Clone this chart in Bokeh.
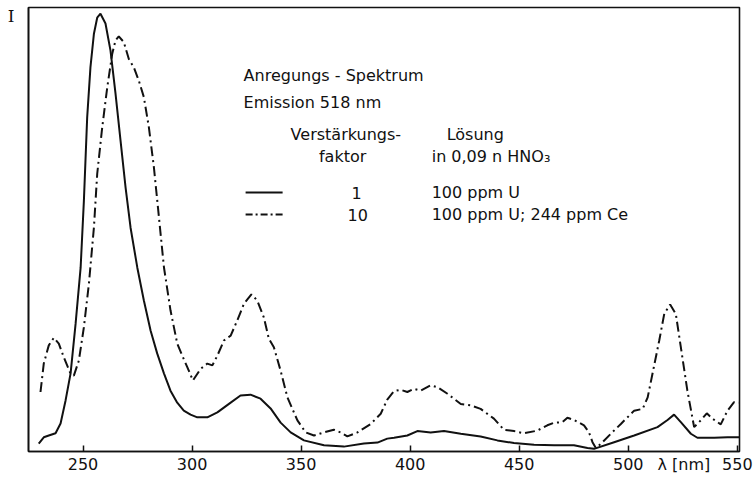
from bokeh.plotting import figure
from bokeh.models import Label, FixedTicker, Range1d
from bokeh.embed import file_html
from bokeh.resources import INLINE

# ---- data (lambda in nm, relative intensity) ----
lam_solid = [229.7, 232.0, 234.3, 237.4, 239.7, 242.0, 244.3, 246.6, 248.9, 250.4,
             251.9, 253.4, 255.0, 256.5, 258.0, 260.3, 262.6, 264.9, 267.2, 269.5,
             271.8, 274.9, 277.9, 281.0, 284.0, 287.1, 290.1, 293.2, 296.2, 299.3,
             302.4, 307.0, 311.6, 317.7, 322.2, 326.8, 331.4, 336.0, 340.6, 345.2,
             351.3, 360.5, 369.6, 378.8, 385.0, 389.5, 392.6, 398.7, 403.3, 409.4,
             415.5, 423.2, 432.3, 440.0, 447.6, 456.8, 466.0, 475.1, 481.3, 484.3,
             493.5, 502.7, 513.4, 518.0, 521.0, 524.1, 528.7, 531.7, 539.4, 545.5,
             551.0]
i_solid = [1.8, 3.2, 3.6, 4.1, 6.3, 11.5, 17.6, 28.8, 41.4, 56.5,
           75.2, 86.5, 94.1, 97.7, 98.6, 96.4, 90.3, 80.6, 70.0, 59.5,
           50.4, 41.4, 34.0, 27.2, 22.1, 17.6, 13.7, 11.0, 9.2, 8.3,
           7.7, 7.7, 8.8, 11.0, 12.6, 12.8, 11.9, 9.7, 6.5, 4.3,
           2.5, 1.4, 1.1, 1.8, 2.0, 2.9, 3.1, 3.6, 4.6, 4.3,
           4.6, 4.0, 3.4, 2.5, 1.9, 1.5, 1.4, 1.4, 0.8, 0.6,
           2.1, 3.6, 5.5, 7.1, 8.3, 6.6, 4.0, 3.1, 3.1, 3.2,
           3.2]

lam_dash = [230.5, 232.0, 234.3, 236.6, 238.9, 241.2, 244.3, 245.8, 248.1, 250.4,
            252.7, 255.0, 256.5, 258.8, 261.1, 263.4, 264.9, 266.4, 268.7, 271.0,
            273.3, 275.6, 277.9, 280.2, 282.5, 284.8, 287.1, 290.1, 293.2, 295.5,
            297.8, 300.4, 303.9, 307.0, 309.3, 311.6, 314.6, 317.7, 320.7, 323.8,
            327.2, 329.9, 332.9, 335.2, 337.5, 340.6, 343.7, 348.3, 352.1, 355.9,
            360.5, 365.0, 368.1, 371.2, 375.8, 381.9, 386.5, 389.5, 392.6, 395.6,
            398.7, 401.7, 404.8, 409.4, 412.5, 417.1, 423.2, 427.7, 432.3, 438.4,
            443.0, 447.6, 452.2, 458.3, 462.9, 466.0, 469.8, 472.1, 475.1, 479.7,
            482.0, 483.6, 485.1, 487.4, 492.0, 496.6, 502.7, 506.6, 508.9, 511.1,
            514.2, 516.5, 519.2, 521.8, 524.1, 527.1, 530.2, 533.2, 536.0, 538.6,
            542.4, 545.5, 548.5, 550.7]
i_dash = [13.4, 19.8, 23.9, 25.6, 24.3, 21.2, 17.5, 17.1, 20.5, 28.0,
          37.8, 50.5, 62.5, 73.0, 82.0, 89.6, 92.6, 93.5, 92.2, 88.4,
          86.5, 83.5, 79.8, 73.0, 64.0, 52.8, 41.5, 31.8, 24.3, 21.6,
          19.0, 16.0, 18.6, 19.8, 19.4, 21.6, 25.0, 26.1, 29.5, 33.3,
          35.4, 34.0, 30.2, 25.4, 23.5, 18.2, 12.2, 7.0, 4.3, 3.6,
          4.3, 4.9, 4.3, 3.4, 4.3, 6.2, 8.5, 11.7, 13.6, 13.9,
          13.4, 14.1, 13.7, 14.9, 14.5, 13.0, 10.7, 10.4, 9.6, 7.4,
          4.9, 4.6, 4.1, 4.7, 5.9, 6.5, 6.6, 7.6, 7.1, 5.9,
          4.3, 2.1, 0.8, 1.7, 4.0, 6.2, 9.2, 9.6, 12.2, 17.5,
          25.0, 31.0, 33.1, 31.0, 23.5, 13.7, 5.5, 7.0, 8.6, 7.4,
          6.1, 9.2, 11.1, 11.0]

x_ticks = [250, 300, 350, 400, 450, 500, 550]
x_unit_label = "λ [nm]"
x_unit_pos = 525.5
y_label = "I"
y_label_pos = 98.0

FONT = "DejaVu Sans"
FS = "16px"
INK = "#111111"

p = figure(width=756, height=479, output_backend="svg", toolbar_location=None,
           x_range=Range1d(225, 551), y_range=Range1d(0, 100),
           min_border_left=28, min_border_right=17, min_border_top=7,
           min_border_bottom=28)
p.background_fill_color = "white"
p.border_fill_color = "white"
p.grid.visible = False
p.outline_line_color = INK
p.outline_line_width = 1.6

# x axis: tick marks via minor ticks (only at the numbered positions),
# labels via major ticks (numbers + the unit label)
ax = p.xaxis[0]
ax.ticker = FixedTicker(ticks=x_ticks + [x_unit_pos], minor_ticks=x_ticks)
ax.major_label_overrides = {x_unit_pos: x_unit_label}
ax.major_tick_line_color = None
ax.major_tick_in = 0
ax.major_tick_out = 0
ax.minor_tick_in = 6
ax.minor_tick_out = 0
ax.minor_tick_line_width = 1.5
ax.minor_tick_line_color = INK
ax.axis_line_color = INK
ax.axis_line_width = 1.6
ax.major_label_text_font = FONT
ax.major_label_text_font_size = FS
ax.major_label_text_color = INK
ax.major_label_standoff = 3

# y axis: only the intensity symbol "I" at the top
ay = p.yaxis[0]
ay.ticker = FixedTicker(ticks=[y_label_pos], minor_ticks=[])
ay.major_label_overrides = {y_label_pos: y_label}
ay.major_tick_line_color = None
ay.major_tick_in = 0
ay.major_tick_out = 0
ay.minor_tick_line_color = None
ay.axis_line_color = INK
ay.axis_line_width = 1.6
ay.major_label_text_font = "DejaVu Serif"
ay.major_label_text_font_size = "17px"
ay.major_label_text_color = INK
ay.major_label_standoff = 14

p.line(lam_solid, i_solid, line_color=INK, line_width=2)
p.line(lam_dash, i_dash, line_color=INK, line_width=2, line_dash="10 4 2 4")

def txt(x, y, s, align="left"):
    p.add_layout(Label(x=x, y=y, text=s, text_align=align, text_baseline="middle",
                       text_font=FONT, text_font_size=FS, text_color=INK))

# annotation layout (pixel positions converted to data space)
def dx(px):
    return 225 + (px - 28) / 2.18

def dy(py):
    return (451 - py) / 4.44

txt(dx(243), dy(75), "Anregungs - Spektrum")
txt(dx(243), dy(102), "Emission 518 nm")
txt(dx(290), dy(134), "Verstärkungs-")
txt(dx(342), dy(156), "faktor", align="center")
txt(dx(446), dy(134), "Lösung")
txt(dx(431), dy(156), "in 0,09 n HNO₃")
txt(dx(356), dy(192), "1", align="center")
txt(dx(431), dy(192), "100 ppm U")
txt(dx(357), dy(214), "10", align="center")
txt(dx(431), dy(214), "100 ppm U; 244 ppm Ce")

# legend samples
p.line([dx(245), dx(282)], [dy(192), dy(192)], line_color=INK, line_width=2)
p.line([dx(245), dx(282)], [dy(214), dy(214)], line_color=INK, line_width=2,
       line_dash="7 3 2 3")

open("out.html", "w").write(file_html(p, INLINE))
